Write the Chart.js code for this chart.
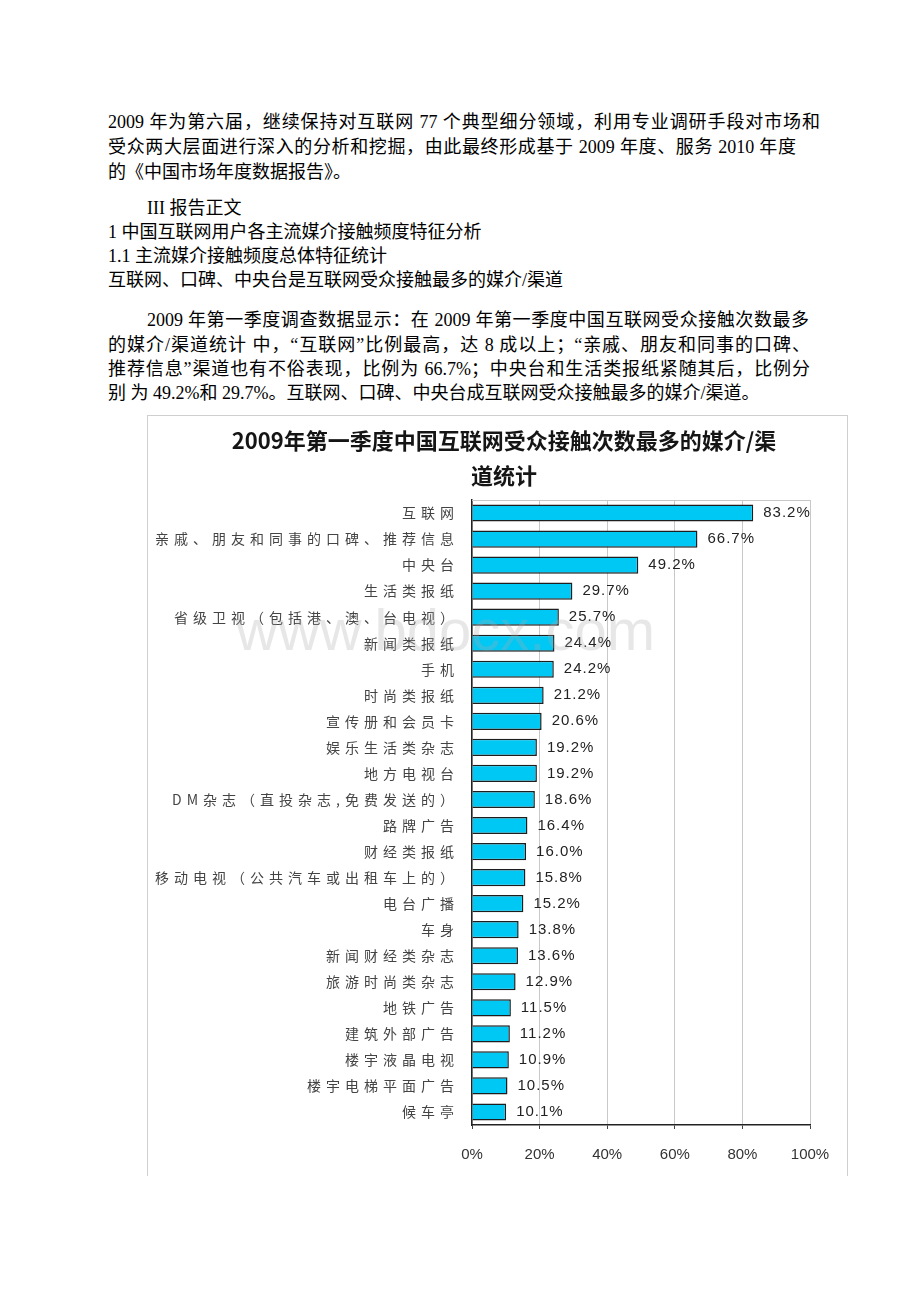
<!DOCTYPE html>
<html lang="zh-CN">
<head>
<meta charset="utf-8">
<script src="https://cdn.jsdelivr.net/npm/chart.js@4.4.1/dist/chart.umd.min.js"></script>
<style>
  html, body { margin:0; padding:0; background:#fff; }
  body { width:920px; height:1302px; position:relative; overflow:hidden;
         font-family:"Liberation Serif","Noto Sans CJK SC",serif; font-size:18px; color:#000; }
  .ln { position:absolute; left:108px; height:24px; line-height:24px; white-space:nowrap; }
  .just { text-align:justify; text-align-last:justify; }
  #frame { position:absolute; left:147px; top:415px; width:699px; height:760px;
           border-top:1px solid #cfcfcf; border-left:1px solid #cfcfcf; border-right:1px solid #cfcfcf; }
  #chartBox { position:absolute; left:148px; top:416px; width:700px; height:774px; }
  #ctitle { position:absolute; left:147px; width:714px; top:422px; text-align:center;
            font-family:"Noto Sans CJK SC",sans-serif; font-weight:bold; font-size:22px;
            line-height:35px; color:#151515; white-space:nowrap; }
  #wm { position:absolute; left:236px; top:596px; font-family:"Liberation Sans",sans-serif;
        font-size:58px; color:rgba(170,170,170,0.28); white-space:nowrap; pointer-events:none; }
</style>
</head>
<body>
<div class="ln just" style="top:110px;width:712px;">2009 年为第六届，继续保持对互联网 77 个典型细分领域，利用专业调研手段对市场和</div>
<div class="ln just" style="top:135px;width:688px;">受众两大层面进行深入的分析和挖掘，由此最终形成基于 2009 年度、服务 2010 年度</div>
<div class="ln" style="top:160px;">的《中国市场年度数据报告》。</div>
<div class="ln" style="top:196px;left:147px;">III 报告正文</div>
<div class="ln" style="top:220px;">1 中国互联网用户各主流媒介接触频度特征分析</div>
<div class="ln" style="top:244px;">1.1 主流媒介接触频度总体特征统计</div>
<div class="ln" style="top:268px;">互联网、口碑、中央台是互联网受众接触最多的媒介/渠道</div>
<div class="ln just" style="top:308px;left:147px;width:662px;">2009 年第一季度调查数据显示：在 2009 年第一季度中国互联网受众接触次数最多</div>
<div class="ln just" style="top:333px;width:702px;">的媒介/渠道统计 中，“互联网”比例最高，达 8 成以上；“亲戚、朋友和同事的口碑、</div>
<div class="ln just" style="top:357px;width:702px;">推荐信息”渠道也有不俗表现，比例为 66.7%；中央台和生活类报纸紧随其后，比例分</div>
<div class="ln" style="top:381px;">别 为 49.2%和 29.7%。互联网、口碑、中央台成互联网受众接触最多的媒介/渠道。</div>

<div id="frame"></div>
<div id="chartBox"><canvas id="c" width="700" height="774"></canvas></div>
<div id="ctitle">2009年第一季度中国互联网受众接触次数最多的媒介/渠<br>道统计</div>
<div id="wm">www.bdocx.com</div>

<script>
const categories = [
  "互联网",
  "亲戚、朋友和同事的口碑、推荐信息",
  "中央台",
  "生活类报纸",
  "省级卫视（包括港、澳、台电视）",
  "新闻类报纸",
  "手机",
  "时尚类报纸",
  "宣传册和会员卡",
  "娱乐生活类杂志",
  "地方电视台",
  "DM杂志（直投杂志,免费发送的）",
  "路牌广告",
  "财经类报纸",
  "移动电视（公共汽车或出租车上的）",
  "电台广播",
  "车身",
  "新闻财经类杂志",
  "旅游时尚类杂志",
  "地铁广告",
  "建筑外部广告",
  "楼宇液晶电视",
  "楼宇电梯平面广告",
  "候车亭"
];
const values = [83.2, 66.7, 49.2, 29.7, 25.7, 24.4, 24.2, 21.2, 20.6, 19.2, 19.2, 18.6,
                16.4, 16.0, 15.8, 15.2, 13.8, 13.6, 12.9, 11.5, 11.2, 10.9, 10.5, 10.1];
const xTickValues = [0, 20, 40, 60, 80, 100];

class SpacedCategory extends Chart.CategoryScale {
  drawLabels(area) {
    const ctx = this.ctx;
    ctx.save();
    try { ctx.letterSpacing = '5px'; } catch (e) {}
    super.drawLabels(area);
    ctx.restore();
  }
}
SpacedCategory.id = 'spacedCategory';
SpacedCategory.defaults = Chart.CategoryScale.defaults;
Chart.register(SpacedCategory);

const frameTop = {
  id: 'frameTop',
  beforeDatasetsDraw(chart) {
    const { ctx, chartArea } = chart;
    ctx.save();
    ctx.strokeStyle = '#c8c8c8';
    ctx.lineWidth = 1;
    ctx.beginPath();
    ctx.moveTo(chartArea.left, chartArea.top + 0.5);
    ctx.lineTo(chartArea.right, chartArea.top + 0.5);
    ctx.stroke();
    ctx.restore();
  }
};

const valueLabels = {
  id: 'valueLabels',
  afterDatasetsDraw(chart) {
    const { ctx } = chart;
    const meta = chart.getDatasetMeta(0);
    ctx.save();
    ctx.font = '15px "Liberation Sans", Arial, sans-serif';
    try { ctx.letterSpacing = '1px'; } catch (e) {}
    ctx.fillStyle = '#222';
    ctx.textAlign = 'left';
    ctx.textBaseline = 'middle';
    meta.data.forEach((bar, i) => {
      ctx.fillText(values[i].toFixed(1) + '%', bar.x + 10, bar.y);
    });
    ctx.restore();
  }
};

new Chart(document.getElementById('c'), {
  type: 'bar',
  data: {
    labels: categories,
    datasets: [{
      data: values,
      backgroundColor: '#00C8F5',
      borderColor: '#1e1e1e',
      borderWidth: 1.5,
      barPercentage: 0.66,
      categoryPercentage: 1
    }]
  },
  options: {
    indexAxis: 'y',
    responsive: false,
    animation: false,
    devicePixelRatio: 1,
    layout: { padding: { left: 0, right: 38, top: 84, bottom: 9 } },
    plugins: {
      legend: { display: false },
      tooltip: { enabled: false },
      title: { display: false }
    },
    scales: {
      x: {
        type: 'linear',
        min: 0, max: 100,
        afterBuildTicks(scale) { scale.ticks = xTickValues.map(v => ({ value: v })); },
        ticks: {
          callback: v => v + '%',
          color: '#333',
          font: { size: 15, family: '"Liberation Sans", Arial, sans-serif' },
          padding: 17,
          maxRotation: 0
        },
        grid: { color: '#c8c8c8', lineWidth: 1, drawTicks: true, tickLength: 4, tickColor: '#444' },
        border: { color: '#222', width: 1.5 }
      },
      y: {
        type: 'spacedCategory',
        ticks: {
          color: '#444',
          font: { size: 14, family: '"Noto Sans CJK SC", sans-serif' },
          padding: 13,
          autoSkip: false
        },
        grid: { display: false, drawTicks: false },
        border: { display: true, color: '#222', width: 1.5 },
        afterFit(scale) { scale.width = 324; }
      }
    }
  },
  plugins: [frameTop, valueLabels]
});
</script>
</body>
</html>
